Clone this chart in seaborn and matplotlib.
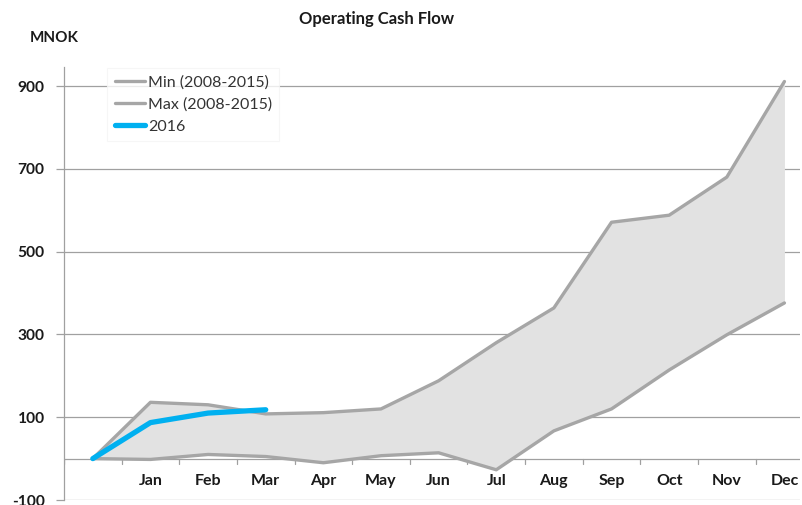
import numpy as np
import pandas as pd
import matplotlib
matplotlib.use("Agg")
import matplotlib.pyplot as plt
import seaborn as sns

# ---- data ----
months = ["", "Jan", "Feb", "Mar", "Apr", "May", "Jun", "Jul", "Aug", "Sep", "Oct", "Nov", "Dec"]
min_vals = [0, -2, 10, 5, -10, 7, 14, -27, 67, 120, 214, 299, 376]
max_vals = [0, 136, 130, 108, 111, 120, 188, 280, 364, 571, 588, 680, 911]
vals_2016 = [0, 87, 110, 118]
yticks = [-100, 100, 300, 500, 700, 900]

sns.set_theme(style="white")
plt.rcParams["font.family"] = ["Lato", "DejaVu Sans"]

fig = plt.figure(figsize=(8.02, 5.05), dpi=100)
ax = fig.add_axes([0.0798, 0.0099, 0.9177, 0.8574])

x_all = np.arange(len(months))
df = pd.DataFrame({"x": x_all, "min": min_vals, "max": max_vals})
df16 = pd.DataFrame({"x": x_all[:len(vals_2016)], "v": vals_2016})

ax.fill_between(df["x"], df["min"], df["max"], color="#e2e2e2", lw=0, zorder=1)

grey = "#a6a6a6"
sns.lineplot(data=df, x="x", y="min", ax=ax, color=grey, lw=2.4, label="Min (2008-2015)", zorder=3)
sns.lineplot(data=df, x="x", y="max", ax=ax, color=grey, lw=2.4, label="Max (2008-2015)", zorder=3)
sns.lineplot(data=df16, x="x", y="v", ax=ax, color="#00b0f0", lw=3.8, label="2016", zorder=4,
             solid_capstyle="round")

ax.set_xlim(-0.5, 12.27)
ax.set_ylim(-100, 946)

# gridlines
for yv in yticks:
    ax.axhline(yv, color="#a0a0a0", lw=0.9, zorder=0)
ax.axhline(0, color="#a0a0a0", lw=0.9, zorder=0)

# category axis ticks at zero line
for xb in np.arange(-0.5, len(months)):
    ax.plot([xb, xb], [0, -12], color="#a0a0a0", lw=0.9, zorder=0)

for xi, m in zip(x_all, months):
    if m:
        ax.text(xi, -55, m, ha="center", va="center", fontsize=11.5, fontweight="bold", color="#1a1a1a")

ax.set_xticks([])
ax.set_yticks(yticks)
ax.set_yticklabels([str(v) for v in yticks], fontsize=11.2, fontweight="bold", color="#1a1a1a")
ax.tick_params(axis="y", length=6, width=0.9, color="#a0a0a0", pad=8, left=True)
for s in ["top", "right", "bottom"]:
    ax.spines[s].set_visible(False)
ax.spines["left"].set_color("#a0a0a0")
ax.spines["left"].set_linewidth(0.9)
ax.set_xlabel("")
ax.set_ylabel("")

leg = ax.legend(loc="upper left", bbox_to_anchor=(0.059, 0.998), borderaxespad=0.0, fontsize=11.5,
                frameon=True, handlelength=1.9, handletextpad=0.2, borderpad=0.45, labelspacing=0.5,
                fancybox=False)
leg.get_frame().set_edgecolor("#f4f4f4")
leg.get_frame().set_linewidth(0.8)
for t in leg.get_texts():
    t.set_color("#333333")

fig.text(0.47, 0.963, "Operating Cash Flow", ha="center", va="center", fontsize=12, fontweight="bold", color="#1a1a1a")
fig.text(0.037, 0.924, "MNOK", ha="left", va="center", fontsize=11, fontweight="bold", color="#1a1a1a")

fig.savefig("out.png", dpi=100)
